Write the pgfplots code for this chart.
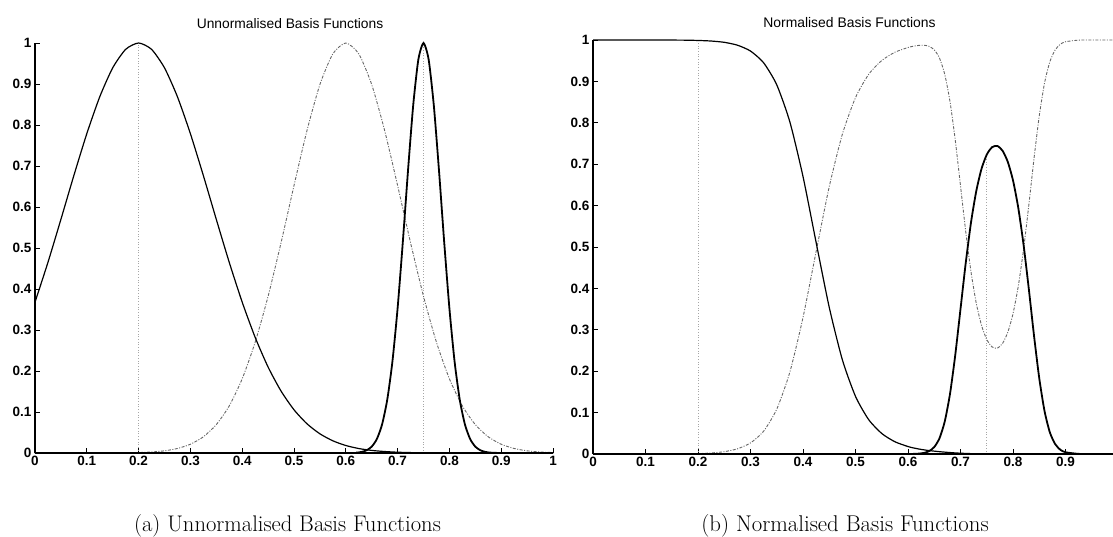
\documentclass[border=0pt]{standalone}
\usepackage{pgfplots}
\usepackage{pgfplotstable}
\pgfplotsset{compat=1.18}
\usepackage{fontspec}
\newfontfamily\helv{Liberation Sans}

\pgfplotstableread{
x y
0 0.3679
0.025 0.4650
0.05 0.5698
0.075 0.6767
0.1 0.7788
0.125 0.8688
0.15 0.9394
0.175 0.9845
0.2 1
0.225 0.9845
0.25 0.9394
0.275 0.8688
0.3 0.7788
0.325 0.6767
0.35 0.5698
0.375 0.4650
0.4 0.3679
0.425 0.2821
0.45 0.2096
0.475 0.1510
0.5 0.1054
0.525 0.0713
0.55 0.0468
0.575 0.0297
0.6 0.0183
0.625 0.0109
0.65 0.0063
0.675 0.0036
0.7 0.0019
0.725 0.0010
0.75 0.0005
0.8 0.0001
0.9 0
1 0
}\funA

\pgfplotstableread{
x y
0 0
0.15 0.0002
0.175 0.0004
0.2 0.0011
0.225 0.0025
0.25 0.0053
0.275 0.0110
0.3 0.0214
0.325 0.0395
0.35 0.0692
0.375 0.1149
0.4 0.1810
0.425 0.2701
0.45 0.3823
0.475 0.5129
0.5 0.6523
0.525 0.7863
0.55 0.8987
0.575 0.9736
0.6 1
0.625 0.9736
0.65 0.8987
0.675 0.7863
0.7 0.6523
0.725 0.5129
0.75 0.3823
0.775 0.2701
0.8 0.1810
0.825 0.1149
0.85 0.0692
0.875 0.0395
0.9 0.0214
0.925 0.0110
0.95 0.0053
0.975 0.0025
1 0.0011
}\funB

\pgfplotstableread{
x y
0 0
0.6 0.0001
0.62 0.0009
0.63 0.0025
0.64 0.0065
0.65 0.0155
0.66 0.0342
0.67 0.0695
0.68 0.1298
0.69 0.2231
0.7 0.3529
0.71 0.5134
0.72 0.6873
0.73 0.8465
0.74 0.9592
0.75 1
0.76 0.9592
0.77 0.8465
0.78 0.6873
0.79 0.5134
0.8 0.3529
0.81 0.2231
0.82 0.1298
0.83 0.0695
0.84 0.0342
0.85 0.0155
0.86 0.0065
0.87 0.0025
0.88 0.0009
0.9 0.0001
1 0
}\funC

\pgfplotstableread{
x y
0 1
0.1 1
0.15 0.9998
0.175 0.9996
0.2 0.9989
0.225 0.9975
0.25 0.9944
0.275 0.9875
0.3 0.9733
0.325 0.9449
0.35 0.8917
0.375 0.8019
0.4 0.6702
0.425 0.5109
0.45 0.3541
0.475 0.2274
0.5 0.1391
0.525 0.0831
0.55 0.0495
0.575 0.0296
0.6 0.0180
0.61 0.0148
0.62 0.0122
0.63 0.0101
0.64 0.0083
0.65 0.0069
0.66 0.0056
0.67 0.0045
0.68 0.0035
0.69 0.0026
0.7 0.0019
0.72 0.0009
0.74 0.0005
0.8 0.0002
0.85 0
1 0
}\norA

\pgfplotstableread{
x y
0 0
0.15 0.0002
0.175 0.0005
0.2 0.0011
0.225 0.0025
0.25 0.0056
0.275 0.0125
0.3 0.0267
0.325 0.0551
0.35 0.1083
0.375 0.1981
0.4 0.3298
0.425 0.4891
0.45 0.6459
0.475 0.7726
0.5 0.8609
0.525 0.9169
0.55 0.9505
0.575 0.9704
0.6 0.9819
0.61 0.9849
0.62 0.9869
0.63 0.9874
0.64 0.9848
0.65 0.9763
0.66 0.9562
0.67 0.9169
0.68 0.8512
0.69 0.7582
0.7 0.6477
0.71 0.5366
0.72 0.4398
0.73 0.3643
0.74 0.3107
0.75 0.2765
0.76 0.2587
0.77 0.2556
0.78 0.2670
0.79 0.2939
0.8 0.3389
0.81 0.4050
0.82 0.4932
0.83 0.5999
0.84 0.7136
0.85 0.8167
0.86 0.8957
0.87 0.9468
0.88 0.9755
0.89 0.9896
0.9 0.9958
0.925 0.9997
0.95 1
1 1
}\norB

\pgfplotstableread{
x y
0 0
0.6 0.0001
0.61 0.0003
0.62 0.0009
0.63 0.0025
0.64 0.0068
0.65 0.0168
0.66 0.0381
0.67 0.0786
0.68 0.1452
0.69 0.2391
0.7 0.3504
0.71 0.4620
0.72 0.5593
0.73 0.6350
0.74 0.6888
0.75 0.7231
0.76 0.7410
0.77 0.7441
0.78 0.7328
0.79 0.7058
0.8 0.6609
0.81 0.5948
0.82 0.5065
0.83 0.3998
0.84 0.2860
0.85 0.1829
0.86 0.1040
0.87 0.0529
0.88 0.0245
0.89 0.0104
0.9 0.0042
0.925 0.0003
0.95 0
1 0
}\norC

\pgfplotsset{
  basis/.style={
    scale only axis,
    anchor=south west,
    clip=false,
    axis x line*=bottom,
    axis y line*=left,
    xmin=0, xmax=1, ymin=0, ymax=1,
    xtick={0,0.1,0.2,0.3,0.4,0.5,0.6,0.7,0.8,0.9,1},
    xticklabels={0,0.1,0.2,0.3,0.4,0.5,0.6,0.7,0.8,0.9,1},
    ytick={0,0.1,0.2,0.3,0.4,0.5,0.6,0.7,0.8,0.9,1},
    yticklabels={0,0.1,0.2,0.3,0.4,0.5,0.6,0.7,0.8,0.9,1},
    tick align=inside,
    major tick length=5pt,
    axis line style={line width=1.1pt, black},
    tick style={line width=0.9pt, black},
    ticklabel style={font=\helv\bfseries\fontsize{13.5}{15}\selectfont},
    /pgf/number format/assume math mode=true,
  },
  vline/.style={black!35, dotted, line width=0.7pt},
  c1/.style={black, line width=1.2pt, smooth, tension=0.4},
  c2/.style={black!60, line width=0.9pt, dash pattern=on 3pt off 1.5pt on 1pt off 1.5pt, smooth, tension=0.4},
  c3/.style={black, line width=1.8pt, smooth, tension=0.4},
}

\begin{document}
\begin{tikzpicture}
\useasboundingbox (0,0) rectangle (1113pt,536pt);

\begin{axis}[basis, at={(35pt,83pt)}, width=518pt, height=410pt]
\addplot[vline] coordinates {(0.2,0) (0.2,1)};
\addplot[vline] coordinates {(0.75,0) (0.75,1)};
\addplot[c2] table {\funB};
\addplot[c1] table {\funA};
\addplot[c3] table {\funC};
\end{axis}

\begin{axis}[basis, at={(593pt,82pt)}, width=525pt, height=414pt,
  xticklabels={0,0.1,0.2,0.3,0.4,0.5,0.6,0.7,0.8,0.9,{}}]
\addplot[vline] coordinates {(0.2,0) (0.2,1)};
\addplot[vline] coordinates {(0.75,0) (0.75,0.72)};
\addplot[c2] table {\norB};
\addplot[c1] table {\norA};
\addplot[c3] table {\norC};
\end{axis}

\node[font=\helv\fontsize{13.8}{16}\selectfont, anchor=base] at (290pt,507.5pt) {Unnormalised Basis Functions};
\node[font=\helv\fontsize{13.9}{16}\selectfont, anchor=base] at (849.5pt,508pt) {Normalised Basis Functions};
\node[font=\fontsize{22.6}{27}\selectfont, anchor=base] at (287.5pt,5pt) {(a) Unnormalised Basis Functions};
\node[font=\fontsize{22.8}{27}\selectfont, anchor=base] at (845pt,5pt) {(b) Normalised Basis Functions};
\end{tikzpicture}
\end{document}
